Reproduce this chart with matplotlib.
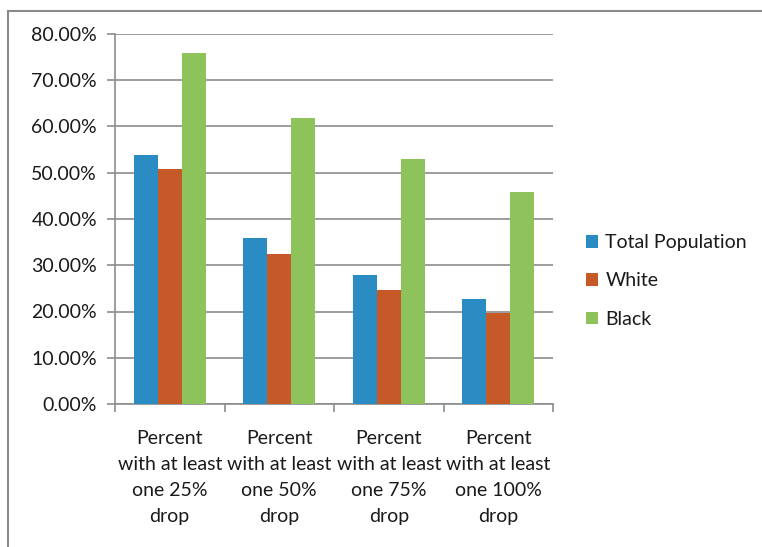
import numpy as np
import matplotlib
matplotlib.use("Agg")
import matplotlib.pyplot as plt
from matplotlib.lines import Line2D
from matplotlib.ticker import FuncFormatter, FixedLocator

plt.rcParams['font.family'] = ['Lato', 'DejaVu Sans']

categories = ["Percent\nwith at least\none 25%\ndrop",
              "Percent\nwith at least\none 50%\ndrop",
              "Percent\nwith at least\none 75%\ndrop",
              "Percent\nwith at least\none 100%\ndrop"]
series = ["Total Population", "White", "Black"]
total_pop = [0.539, 0.359, 0.279, 0.227]
white = [0.508, 0.325, 0.246, 0.197]
black = [0.759, 0.618, 0.530, 0.458]
colors = ["#2B8CC4", "#C55A28", "#8DC35A"]

W, H = 762, 547
fig = plt.figure(figsize=(W / 100, H / 100), dpi=100)
ax = fig.add_axes([115 / W, 1 - 404 / H, (553 - 115) / W, (404 - 34) / H])

x = np.arange(len(categories))
bw = 0.218
for i, (vals, name) in enumerate(zip([total_pop, white, black], series)):
    ax.bar(x + (i - 1) * bw, vals, bw, color=colors[i], label=name, zorder=3)

ax.set_xlim(-0.5, len(categories) - 0.5)
ax.set_ylim(0, 0.8)
ax.set_yticks(np.arange(0, 0.81, 0.1))
ax.yaxis.set_major_formatter(FuncFormatter(lambda v, p: "%.2f%%" % (v * 100)))
ax.yaxis.grid(True, color="#8c8c8c", linewidth=1.2, zorder=0)
ax.set_axisbelow(True)

ax.xaxis.set_major_locator(FixedLocator(np.arange(-0.5, len(categories), 1.0)))
ax.xaxis.set_major_formatter(FuncFormatter(lambda v, p: ""))
ax.xaxis.set_minor_locator(FixedLocator(x))
ax.set_xticklabels(categories, minor=True)
ax.tick_params(axis="x", which="minor", length=0, pad=19, labelsize=14,
               labelcolor="#1a1a1a")
ax.tick_params(axis="x", which="major", length=6, width=1.2, color="#8c8c8c")
ax.tick_params(axis="y", length=6, width=1.2, color="#8c8c8c", labelsize=14,
               labelcolor="#1a1a1a", pad=7)
for lbl in ax.get_xticklabels(minor=True):
    lbl.set_linespacing(1.63)

for s in ["top", "right"]:
    ax.spines[s].set_visible(False)
for s in ["left", "bottom"]:
    ax.spines[s].set_color("#8c8c8c")
    ax.spines[s].set_linewidth(1.2)

leg = fig.legend(loc="center left", bbox_to_anchor=(568 / W, 1 - 281 / H),
                 frameon=False, fontsize=14, handlelength=0.62,
                 handleheight=0.62, handletextpad=0.4, labelspacing=1.1)
for t in leg.get_texts():
    t.set_color("#1a1a1a")

# outer chart border (only top and left visible)
fig.add_artist(Line2D([8 / W, 8 / W], [0, 1 - 11 / H], color="#8a8a8a", linewidth=1.5))
fig.add_artist(Line2D([8 / W, 1], [1 - 11 / H, 1 - 11 / H], color="#8a8a8a", linewidth=1.5))

fig.savefig("out.png", dpi=100)
